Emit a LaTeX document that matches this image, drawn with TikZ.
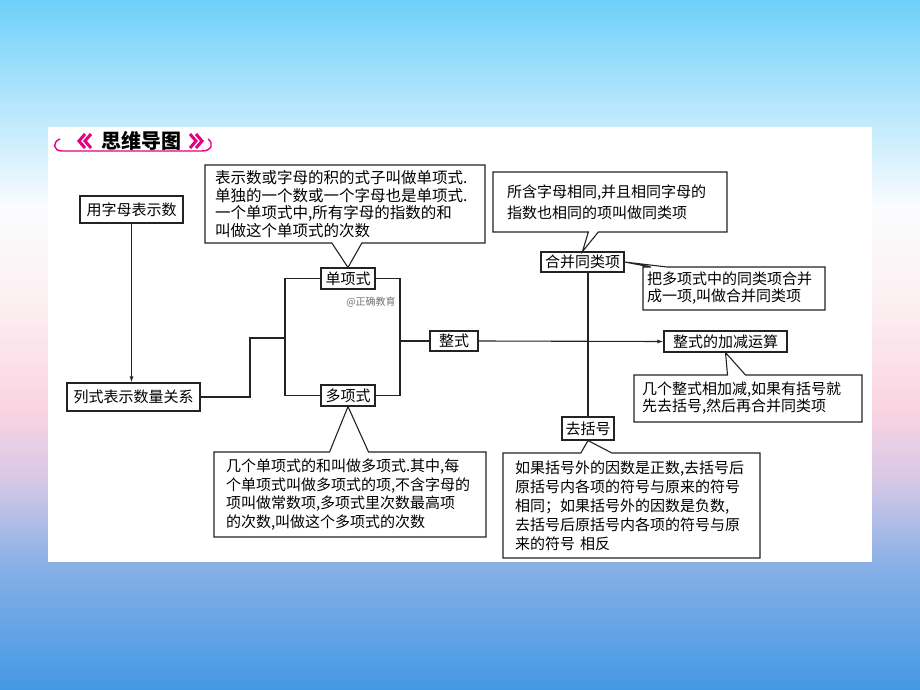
\documentclass[tikz,border=0pt]{standalone}
\usepackage{fontspec}
\setmainfont{Noto Sans CJK SC}
\usepackage{tikz}
\usetikzlibrary{arrows.meta,shapes.callouts}

\definecolor{titlepink}{RGB}{228,0,127}
\definecolor{linegray}{RGB}{35,35,35}
\definecolor{bgtop}{RGB}{110,208,250}
\definecolor{bgwhite}{RGB}{250,252,254}
\definecolor{bgblush}{RGB}{252,240,242}
\definecolor{bgpink}{RGB}{250,212,226}
\definecolor{bglav}{RGB}{212,200,230}
\definecolor{bgmid}{RGB}{135,176,230}
\definecolor{bgbot}{RGB}{68,152,228}

\pgfdeclareverticalshading{skyfade}{100bp}{color(0bp)=(bgbot); color(25bp)=(bgbot);
  color(34bp)=(bgmid); color(40bp)=(bglav); color(45.3bp)=(bgpink);
  color(53.3bp)=(bgblush); color(60bp)=(bgwhite); color(75bp)=(bgtop); color(100bp)=(bgtop)}

\begin{document}
\begin{tikzpicture}[x=1pt, y=-1pt,
    every node/.style={font=\fontsize{15}{17}\selectfont},
    box/.style={draw=linegray, line width=1.1pt, fill=white, inner sep=0pt},
    note/.style={rectangle callout, draw=linegray, line width=1.1pt, fill=white,
                 align=left, inner xsep=0pt, inner ysep=2pt},
    link/.style={draw=linegray, line width=1.1pt},
    arr/.style={link, -{Latex[length=6pt,width=4pt]}}]
  \useasboundingbox (0,0) rectangle (920,690);
  \shade[shading=skyfade] (0,0) rectangle (920,690);
  \fill[white] (48,127) rectangle (872,562);

  % title
  \draw[titlepink, line width=1.4pt] (60,139) .. controls (52,142) and (53,151) .. (62,151)
    -- (202,151) .. controls (212,151) and (214,143) .. (208,139);
  \draw[titlepink, line width=3pt] (85,134) -- (79,141) -- (85,148) (91,134) -- (85,141) -- (91,148);
  \draw[titlepink, line width=3pt] (190,134) -- (196,141) -- (190,148) (196,134) -- (202,141) -- (196,148);
  \node[font=\fontsize{20}{20}\selectfont\bfseries] (title) at (141,141) {思维导图};

  % main boxes
  \node[box, minimum width=103pt, minimum height=27pt] (yong) at (131.5,209.5) {用字母表示数};
  \node[box, minimum width=133pt, minimum height=28pt] (lieshi) at (133.5,397) {列式表示数量关系};
  \node[box, minimum width=54pt, minimum height=21pt] (dan) at (348,278.5) {单项式};
  \node[box, minimum width=54pt, minimum height=21pt] (duo) at (348,395.5) {多项式};
  \node[box, minimum width=48pt, minimum height=20pt] (zheng) at (454,341) {整式};
  \node[box, minimum width=123pt, minimum height=21pt] (jiajian) at (725.5,341.5) {整式的加减运算};
  \node[box, minimum width=83pt, minimum height=20pt] (hebing) at (582.5,262) {合并同类项};
  \node[box, minimum width=52pt, minimum height=23pt] (qukuohao) at (588,428.5) {去括号};
  \node[font=\fontsize{10}{10}\selectfont, text=black!55] (mark) at (371,302) {@正确教育};

  % connectors
  \coordinate (mid) at (250,338);
  \coordinate (lb) at (285,338);
  \coordinate (rb) at (400,341);
  \draw[arr] (yong.south) -- (yong.south |- lieshi.north);
  \draw[link] (lieshi.east) -| (mid) -- (lb);
  \draw[link] (dan.west) -| (lb) |- (duo.west);
  \draw[link] (dan.east) -| (rb) |- (duo.east);
  \draw[link] (rb) -- (zheng.west);
  \draw[link] (qukuohao.north |- hebing.south) -- (qukuohao.north);
  \draw[arr] (zheng.east) -- (jiajian.west);

  % callouts
  \node[note, minimum width=280pt, minimum height=78pt, text width=260pt,
        font=\fontsize{15.5}{17.5}\selectfont,
        callout pointer width=30pt, callout absolute pointer={(dan.north)}] (danNote) at (345,204)
    {表示数或字母的积的式子叫做单项式.\\单独的一个数或一个字母也是单项式.\\一个单项式中,所有字母的指数的和\\叫做这个单项式的次数};
  \node[note, minimum width=234pt, minimum height=60pt, text width=206pt,
        font=\fontsize{15}{21}\selectfont,
        callout pointer width=10pt, callout absolute pointer={(hebing.north)}] (tongNote) at (610,202)
    {所含字母相同,并且相同字母的\\指数也相同的项叫做同类项};
  \node[note, minimum width=182pt, minimum height=43pt, text width=174pt,
        callout pointer width=16pt, callout absolute pointer={(hebing.east)}] (hebingNote) at (734,288.5)
    {把多项式中的同类项合并\\成一项,叫做合并同类项};
  \node[note, minimum width=228pt, minimum height=47pt, text width=212pt,
        callout pointer width=18pt, callout absolute pointer={(jiajian.south)}] (jiajianNote) at (748,398.5)
    {几个整式相加减,如果有括号就\\先去括号,然后再合并同类项};
  \node[note, minimum width=272pt, minimum height=85pt, text width=248pt,
        font=\fontsize{15}{18.7}\selectfont,
        callout pointer width=39pt, callout absolute pointer={(duo.south)}] (duoNote) at (350,494.5)
    {几个单项式的和叫做多项式.其中,每\\个单项式叫做多项式的项,不含字母的\\项叫做常数项,多项式里次数最高项\\的次数,叫做这个多项式的次数};
  \node[note, minimum width=257pt, minimum height=105pt, text width=233pt,
        font=\fontsize{15}{19}\selectfont,
        callout pointer width=31pt, callout absolute pointer={(qukuohao.south)}] (quNote) at (631.5,505.5)
    {如果括号外的因数是正数,去括号后\\原括号内各项的符号与原来的符号\\相同；如果括号外的因数是负数,\\去括号后原括号内各项的符号与原\\来的符号 相反};
\end{tikzpicture}
\end{document}
